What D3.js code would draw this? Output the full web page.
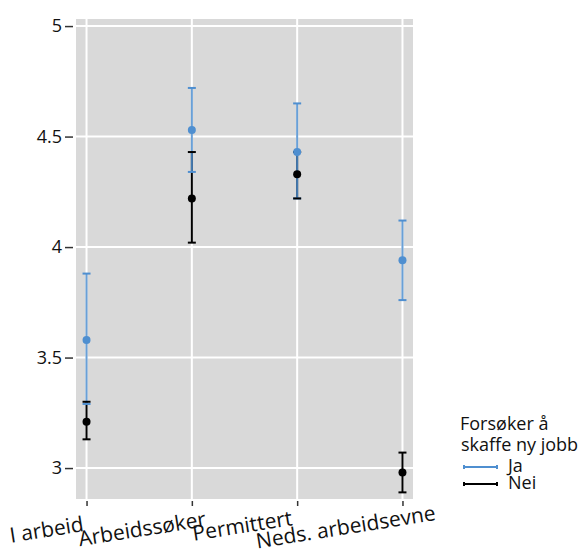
<!DOCTYPE html>
<html>
<head>
<meta charset="utf-8">
<script src="https://cdn.jsdelivr.net/npm/d3@7"></script>
<style>
  body { margin: 0; background: #fff; }
  svg { display: block; }
</style>
</head>
<body>
<svg width="586" height="553"></svg>
<script>
// categories and values
const categories = ["I arbeid", "Arbeidssøker", "Permittert", "Neds. arbeidsevne"];
const jaMean = [3.58, 4.53, 4.43, 3.94];
const jaLow  = [3.29, 4.34, 4.22, 3.76];
const jaHigh = [3.88, 4.72, 4.65, 4.12];
const neiMean = [3.21, 4.22, 4.33, 2.98];
const neiLow  = [3.13, 4.02, 4.22, 2.89];
const neiHigh = [3.30, 4.43, 4.43, 3.07];
const yTicks = [3, 3.5, 4, 4.5, 5];
const groups = ["Ja", "Nei"];

const svg = d3.select("svg");
const font = "'Open Sans', 'Noto Sans', sans-serif";
const blue = "#4f8fd0";

// panel box
const panel = { left: 76, right: 413, top: 19, bottom: 499 };

const x = d3.scalePoint()
   .domain(categories)
   .range([panel.left, panel.right])
   .padding(0.1);

const y = d3.scaleLinear()
   .domain([2.86, 5.032])
   .range([panel.bottom, panel.top]);

// grey background
svg.append("rect")
   .attr("x", panel.left)
   .attr("y", panel.top)
   .attr("width", panel.right - panel.left)
   .attr("height", panel.bottom - panel.top)
   .attr("fill", "#d9d9d9");

// white grid
svg.append("g").selectAll("line")
   .data(yTicks)
   .join("line")
   .attr("x1", panel.left).attr("x2", panel.right)
   .attr("y1", d => y(d)).attr("y2", d => y(d))
   .attr("stroke", "#fff").attr("stroke-width", 2);

svg.append("g").selectAll("line")
   .data(categories)
   .join("line")
   .attr("x1", d => x(d)).attr("x2", d => x(d))
   .attr("y1", panel.top).attr("y2", panel.bottom)
   .attr("stroke", "#fff").attr("stroke-width", 2);

// y axis
const yAxis = svg.append("g")
   .attr("transform", "translate(73,0)")
   .call(d3.axisLeft(y).tickValues(yTicks).tickSize(8).tickPadding(3).tickFormat(d => d));
yAxis.select(".domain").remove();
yAxis.selectAll(".tick line").attr("stroke", "#333").attr("stroke-width", 1.5);
yAxis.selectAll(".tick text")
   .attr("fill", "#111")
   .attr("font-size", "18px")
   .attr("font-family", font);

// x axis
const xAxis = svg.append("g")
   .attr("transform", "translate(0,501)")
   .call(d3.axisBottom(x).tickSize(5).tickFormat(""));
xAxis.select(".domain").remove();
xAxis.selectAll(".tick line").attr("stroke", "#333").attr("stroke-width", 1.5);

// slanted category labels, end of each label nudged like the original
const labelNudge = [[-2, 30], [15, 25], [-4, 24], [34, 19]];
svg.append("g").selectAll("text")
   .data(categories)
   .join("text")
   .attr("transform", (d, i) => `translate(${x(d) + labelNudge[i][0]},${501 + labelNudge[i][1]}) rotate(-9)`)
   .attr("text-anchor", "end")
   .attr("fill", "#111")
   .attr("font-size", "21px")
   .attr("font-family", font)
   .text(d => d);

// error bars
const series = [
   { name: "Nei", color: "#000", mean: neiMean, low: neiLow, high: neiHigh, opacity: 1 },
   { name: "Ja", color: blue, mean: jaMean, low: jaLow, high: jaHigh, opacity: 0.85 }
];
const capW = 4;

// stems
series.forEach(s => {
   svg.append("g").selectAll("line")
      .data(categories)
      .join("line")
      .attr("x1", d => x(d)).attr("x2", d => x(d))
      .attr("y1", (d, i) => y(s.low[i]))
      .attr("y2", (d, i) => y(s.high[i]))
      .attr("stroke", s.color)
      .attr("stroke-opacity", s.opacity)
      .attr("stroke-width", 2);
});

// caps
[series[1], series[0]].forEach(s => {
   const caps = svg.append("g");
   [s.low, s.high].forEach(vals => {
      caps.append("g").selectAll("line")
         .data(categories)
         .join("line")
         .attr("x1", d => x(d) - capW).attr("x2", d => x(d) + capW)
         .attr("y1", (d, i) => y(vals[i]))
         .attr("y2", (d, i) => y(vals[i]))
         .attr("stroke", s.color)
         .attr("stroke-width", 2);
   });
});

// points
[series[1], series[0]].forEach(s => {
   svg.append("g").selectAll("circle")
      .data(categories)
      .join("circle")
      .attr("cx", d => x(d))
      .attr("cy", (d, i) => y(s.mean[i]))
      .attr("r", 4)
      .attr("fill", s.color);
});

// legend
const legend = svg.append("g").attr("transform", "translate(460,0)");
legend.append("text")
   .attr("x", 0).attr("y", 430)
   .attr("font-size", "18px").attr("font-family", font).attr("fill", "#111")
   .text("Forsøker å");
legend.append("text")
   .attr("x", 1).attr("y", 451)
   .attr("font-size", "18px").attr("font-family", font).attr("fill", "#111")
   .text("skaffe ny jobb");

const legendY = d3.scalePoint().domain(groups).range([467, 484]);
const legendColor = d3.scaleOrdinal().domain(groups).range([blue, "#000"]);
const items = legend.selectAll("g.item")
   .data(groups)
   .join("g")
   .attr("class", "item")
   .attr("transform", d => `translate(0,${legendY(d)})`);
items.append("line")
   .attr("x1", 4).attr("x2", 37)
   .attr("stroke", d => legendColor(d))
   .attr("stroke-width", 2);
items.append("line")
   .attr("x1", 4).attr("x2", 4).attr("y1", -2).attr("y2", 2)
   .attr("stroke", d => legendColor(d)).attr("stroke-width", 2);
items.append("line")
   .attr("x1", 37).attr("x2", 37).attr("y1", -2).attr("y2", 2)
   .attr("stroke", d => legendColor(d)).attr("stroke-width", 2);
items.append("text")
   .attr("x", 48).attr("y", 5)
   .attr("font-size", "18px").attr("font-family", font).attr("fill", "#111")
   .text(d => d);
</script>
</body>
</html>
